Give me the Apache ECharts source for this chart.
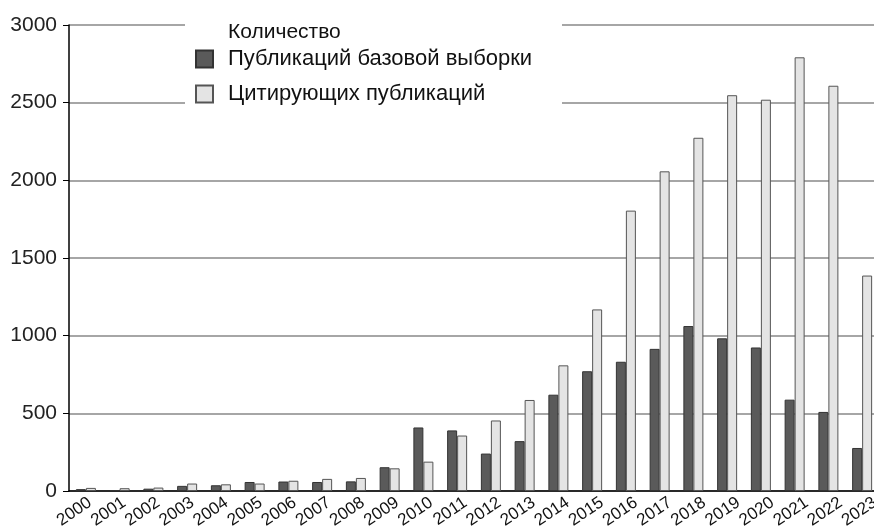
<!DOCTYPE html>
<html>
<head>
<meta charset="utf-8">
<script src="https://cdn.jsdelivr.net/npm/echarts@6/dist/echarts.min.js"></script>
<style>html,body{margin:0;padding:0;background:#fff;overflow:hidden;width:874px;height:531px}#c{width:900px;height:531px}</style>
</head>
<body>
<div id="c"></div>
<script>
const years = ['2000','2001','2002','2003','2004','2005','2006','2007','2008','2009','2010','2011','2012','2013','2014','2015','2016','2017','2018','2019','2020','2021','2022','2023'];
const basePubs = [12, 5, 15, 33, 37, 58, 61, 58, 62, 153, 409, 390, 241, 321, 620, 771, 832, 915, 1062, 983, 924, 588, 509, 277];
const citingPubs = [20, 18, 22, 48, 43, 48, 66, 78, 84, 146, 189, 357, 454, 586, 809, 1169, 1805, 2058, 2274, 2548, 2519, 2792, 2609, 1387];
const yTicks = [0, 500, 1000, 1500, 2000, 2500, 3000];
const legendTitle = 'Количество';
const seriesNames = ['Публикаций базовой выборки', 'Цитирующих публикаций'];

const font = '"Liberation Sans", Arial, sans-serif';
const chart = echarts.init(document.getElementById('c'));
chart.setOption({
  backgroundColor: '#ffffff',
  animation: false,
  textStyle: { fontFamily: font },
  grid: [
    { left: 69, top: 25, bottom: 40, right: 21, containLabel: false },
    { left: 73, top: 25, bottom: 40, right: 8, containLabel: false }
  ],
  graphic: [{
    type: 'rect', z: 10,
    shape: { x: 185, y: 8, width: 377, height: 108 },
    style: { fill: '#ffffff' }
  }],
  title: {
    text: legendTitle, left: 223, top: 17, z: 20,
    textStyle: { fontFamily: font, fontSize: 21, fontWeight: 'normal', color: '#111' }
  },
  legend: {
    orient: 'vertical', left: 190, top: 43, z: 20,
    itemWidth: 17, itemHeight: 17, itemGap: 13,
    padding: [5, 5, 5, 5],
    icon: 'rect',
    textStyle: { fontFamily: font, fontSize: 22, color: '#111', padding: [0, 0, 0, 10] },
    data: seriesNames
  },
  xAxis: [
    {
      type: 'category', data: years, gridIndex: 0,
      axisLine: { lineStyle: { color: '#000', width: 1.5 } },
      axisTick: { show: false },
      axisLabel: { show: false }
    },
    {
      type: 'category', data: years, gridIndex: 1,
      axisLine: { show: false },
      axisTick: { show: false },
      axisLabel: { interval: 0, rotate: 34, fontSize: 17, color: '#111', margin: 12, fontFamily: font }
    }
  ],
  yAxis: [
    {
      type: 'value', gridIndex: 0, min: yTicks[0], max: yTicks[yTicks.length - 1], interval: 500,
      axisLine: { show: true, lineStyle: { color: '#000', width: 1.5 } },
      axisTick: { show: true, length: 6, lineStyle: { color: '#000' } },
      axisLabel: { fontSize: 21, color: '#222', margin: 12, fontFamily: font, formatter: v => String(v) },
      splitLine: { lineStyle: { color: '#888', width: 1.5 } }
    },
    {
      type: 'value', gridIndex: 1, min: yTicks[0], max: yTicks[yTicks.length - 1], interval: 500,
      show: false, splitLine: { show: false }
    }
  ],
  series: [
    {
      name: seriesNames[0], type: 'bar', data: basePubs, barWidth: 10, barGap: '0%',
      xAxisIndex: 0, yAxisIndex: 0,
      itemStyle: { color: '#5a5a5a', borderColor: '#333', borderWidth: 1 }
    },
    {
      name: seriesNames[1], type: 'bar', data: citingPubs, barWidth: 10, barGap: '0%',
      xAxisIndex: 0, yAxisIndex: 0,
      itemStyle: { color: '#e4e4e4', borderColor: '#555', borderWidth: 1 }
    }
  ]
});
</script>
</body>
</html>
